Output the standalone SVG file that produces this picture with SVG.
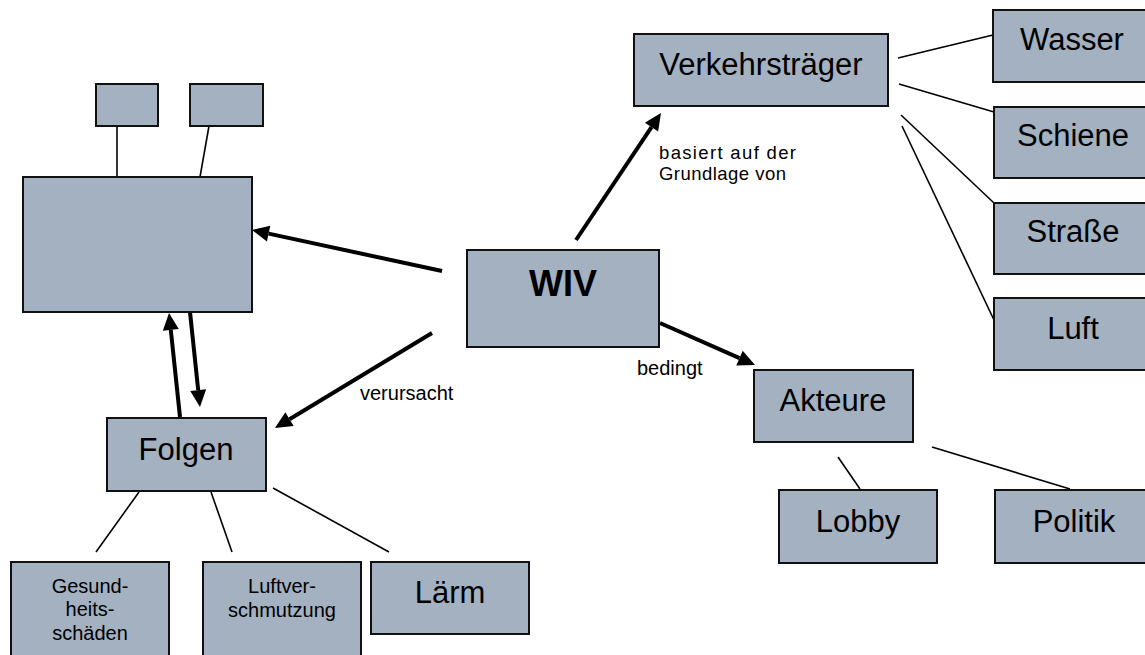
<svg xmlns="http://www.w3.org/2000/svg" width="1145" height="655" viewBox="0 0 1145 655">
<style>
.box{fill:#a3b1c0;stroke:#111;stroke-width:2}
.t{font-family:"Liberation Sans",Arial,sans-serif;fill:#000;text-anchor:middle}
.big{font-size:31px}
.sm{font-size:20px}
.lbl{font-family:"Liberation Sans",Arial,sans-serif;font-size:20px;fill:#000}
.ln{stroke:#000;stroke-width:1.6;fill:none}
.ar{stroke:#000;stroke-width:4;fill:none;marker-end:url(#ah)}
</style>
<defs>
<marker id="ah" markerUnits="userSpaceOnUse" orient="auto" overflow="visible" markerWidth="17" markerHeight="16" refX="0" refY="0">
<path d="M0,-8 L17,0 L0,8 z" fill="#000"/>
</marker>
</defs>
<rect width="1145" height="655" fill="#fff"/>
<g id="connectors">
<line class="ln" x1="117" y1="126" x2="117" y2="177"/>
<line class="ln" x1="209" y1="126" x2="200" y2="177"/>
<line class="ln" x1="898" y1="58" x2="993" y2="35"/>
<line class="ln" x1="899" y1="84" x2="994" y2="112"/>
<line class="ln" x1="901" y1="115" x2="994" y2="203"/>
<line class="ln" x1="902" y1="126" x2="994" y2="320"/>
<line class="ln" x1="838" y1="457" x2="860" y2="489"/>
<line class="ln" x1="932" y1="447" x2="1070" y2="489"/>
<line class="ln" x1="139" y1="492" x2="96" y2="552"/>
<line class="ln" x1="211" y1="492" x2="232" y2="552"/>
<line class="ln" x1="273" y1="488" x2="389" y2="552"/>
<line class="ar" x1="442" y1="271" x2="268.6" y2="233.6"/>
<line class="ar" x1="432" y1="333" x2="289.5" y2="419.2"/>
<line class="ar" x1="180" y1="417" x2="170.8" y2="329.9"/>
<line class="ar" x1="190" y1="312" x2="198.2" y2="390.1"/>
<line class="ar" x1="576" y1="240" x2="651.5" y2="127.1"/>
<line class="ar" x1="660" y1="323" x2="739.5" y2="358.1"/>
<text class="lbl" x="659" y="159" font-size="18.5" style="font-size:18.5px" textLength="137" lengthAdjust="spacing">basiert auf der</text>
<text class="lbl" x="659" y="180" style="font-size:18.5px" textLength="127" lengthAdjust="spacing">Grundlage von</text>
<text class="lbl" x="637" y="375">bedingt</text>
<text class="lbl" x="360" y="400">verursacht</text>
</g>
<g id="small1"><rect class="box" x="96" y="84" width="62" height="42"/></g>
<g id="small2"><rect class="box" x="190" y="84" width="73" height="42"/></g>
<g id="bigbox"><rect class="box" x="23" y="177" width="229" height="135"/></g>
<g id="wiv"><rect class="box" x="467" y="250" width="192" height="97"/><text class="t" x="563" y="296" font-size="36" font-weight="bold">WIV</text></g>
<g id="verkehrstraeger"><rect class="box" x="634" y="34" width="254" height="72"/><text class="t big" x="761" y="75">Verkehrsträger</text></g>
<g id="wasser"><rect class="box" x="993" y="10" width="160" height="72"/><text class="t big" x="1072" y="50">Wasser</text></g>
<g id="schiene"><rect class="box" x="994" y="107" width="160" height="71"/><text class="t big" x="1073" y="146">Schiene</text></g>
<g id="strasse"><rect class="box" x="994" y="203" width="160" height="71"/><text class="t big" x="1073" y="242">Straße</text></g>
<g id="luft"><rect class="box" x="994" y="298" width="160" height="72"/><text class="t big" x="1073" y="339">Luft</text></g>
<g id="akteure"><rect class="box" x="754" y="370" width="159" height="72"/><text class="t big" x="833" y="411">Akteure</text></g>
<g id="lobby"><rect class="box" x="779" y="490" width="158" height="73"/><text class="t big" x="858" y="532">Lobby</text></g>
<g id="politik"><rect class="box" x="995" y="490" width="160" height="73"/><text class="t big" x="1074" y="532">Politik</text></g>
<g id="folgen"><rect class="box" x="107" y="418" width="159" height="73"/><text class="t big" x="186" y="460">Folgen</text></g>
<g id="gesundheit"><rect class="box" x="11" y="562" width="158" height="100"/><text class="t sm" x="90" y="593">Gesund-</text><text class="t sm" x="90" y="616">heits-</text><text class="t sm" x="90" y="640">schäden</text></g>
<g id="luftverschmutzung"><rect class="box" x="203" y="562" width="158" height="100"/><text class="t sm" x="282" y="593">Luftver-</text><text class="t sm" x="282" y="617">schmutzung</text></g>
<g id="laerm"><rect class="box" x="371" y="562" width="158" height="72"/><text class="t big" x="450" y="603">Lärm</text></g>
</svg>
